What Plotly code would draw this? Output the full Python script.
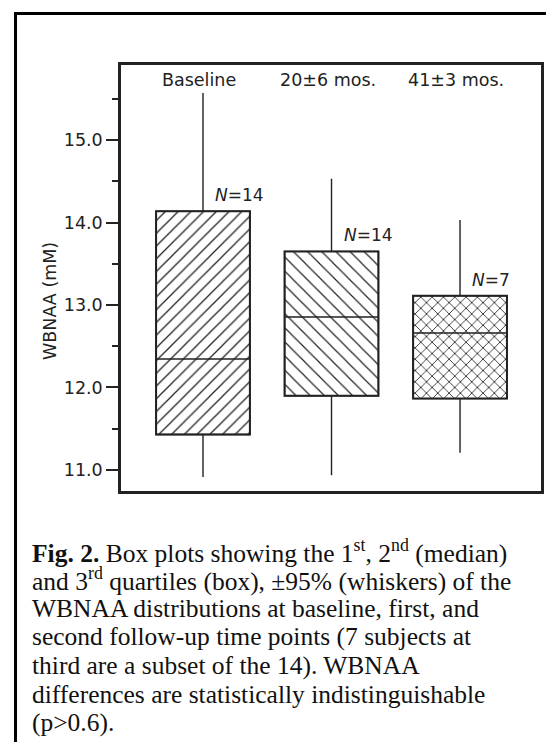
import plotly.graph_objects as go

# ---- data ----
categories = ["Baseline", "20±6 mos.", "41±3 mos."]
n_counts = [14, 14, 7]
q1 = [11.43, 11.90, 11.865]
median = [12.345, 12.855, 12.66]
q3 = [14.136, 13.65, 13.113]
lower_whisker = [10.915, 10.935, 11.21]
upper_whisker = [15.57, 14.53, 14.03]
hatch = ["/", "\\", "x"]
y_ticks = [11.0, 12.0, 13.0, 14.0, 15.0]
y_title = "WBNAA (mM)"
caption_lines = [
    "<b>Fig. 2.</b> Box plots showing the 1<sup>st</sup>, 2<sup>nd</sup> (median)",
    "and 3<sup>rd</sup> quartiles (box), ±95% (whiskers) of the",
    "WBNAA distributions at baseline, first, and",
    "second follow-up time points (7 subjects at",
    "third are a subset of the 14). WBNAA",
    "differences are statistically indistinguishable",
    "(p>0.6).",
]

W, H = 554, 742
L, R, T, B = 113, 533, 57, 483  # plot area in pixels
INK = "#222222"
SANS = "DejaVu Sans"
SERIF = "Liberation Serif, Times New Roman, serif"


def px_x(px):
    return (px - L) / (R - L)


def px_y(py):
    return (B - py) / (B - T)


pos = list(range(len(categories)))
box_w = 0.73

fig = go.Figure()
fig.add_trace(go.Bar(
    x=pos,
    y=[b - a for a, b in zip(q1, q3)],
    base=q1,
    width=box_w,
    marker=dict(
        color="white",
        line=dict(color=INK, width=2),
        pattern=dict(shape=hatch, fgcolor=INK, bgcolor="white",
                     size=[9, 10, 8], solidity=[0.14, 0.12, 0.2],
                     fillmode="replace"),
    ),
    showlegend=False,
    hoverinfo="skip",
))
fig.add_trace(go.Box(
    x=pos,
    q1=q1,
    median=median,
    q3=q3,
    lowerfence=lower_whisker,
    upperfence=upper_whisker,
    width=box_w,
    whiskerwidth=0,
    fillcolor="rgba(0,0,0,0)",
    line=dict(color=INK, width=1.4),
    boxpoints=False,
    showlegend=False,
    hoverinfo="skip",
))

annotations = []
# group labels at the top
for i, c in enumerate(categories):
    annotations.append(dict(
        x=pos[i], xref="x", y=px_y(72), yref="paper", text=c,
        showarrow=False, xanchor="center", yanchor="middle", xshift=-4,
        font=dict(family=SANS, size=17.5, color=INK),
    ))
# N labels
for i, n in enumerate(n_counts):
    annotations.append(dict(
        x=pos[i], xref="x", y=q3[i], yref="y", text=f"<i>N</i>={n}",
        showarrow=False, xanchor="left", yanchor="middle", xshift=10, yshift=16,
        font=dict(family=SANS, size=17, color=INK),
    ))
# y-axis title
annotations.append(dict(
    x=px_x(42), xref="paper", y=px_y(293), yref="paper", text=y_title,
    textangle=-90, showarrow=False, xanchor="center", yanchor="middle",
    font=dict(family=SANS, size=17.5, color=INK),
))
# caption
for i, line in enumerate(caption_lines):
    annotations.append(dict(
        x=px_x(22), xref="paper", y=px_y(543 + i * 28.6), yref="paper",
        text=line, showarrow=False, xanchor="left", yanchor="middle",
        font=dict(family=SERIF, size=25.5, color="#111111"),
    ))

shapes = [
    dict(type="line", xref="paper", yref="paper",
         x0=px_x(7.5), x1=px_x(W + 5), y0=px_y(5.5), y1=px_y(5.5),
         line=dict(color="black", width=3)),
    dict(type="line", xref="paper", yref="paper",
         x0=px_x(7.5), x1=px_x(7.5), y0=px_y(4), y1=px_y(H + 5),
         line=dict(color="black", width=3)),
]

fig.update_layout(
    width=W, height=H,
    margin=dict(l=L, r=W - R, t=T, b=H - B, pad=0),
    paper_bgcolor="white", plot_bgcolor="white",
    showlegend=False,
    annotations=annotations,
    shapes=shapes,
    xaxis=dict(
        range=[-0.638, 2.63], showticklabels=False, ticks="",
        showline=True, mirror=True, linecolor=INK, linewidth=2.5,
        showgrid=False, zeroline=False, fixedrange=True,
    ),
    yaxis=dict(
        range=[10.745, 15.91],
        tickvals=y_ticks, ticktext=[f"{t:.1f}" for t in y_ticks],
        ticks="outside", ticklen=12, tickwidth=2, tickcolor=INK,
        minor=dict(ticks="outside", ticklen=6, tickwidth=2, tickcolor=INK,
                   tickvals=[t + 0.5 for t in y_ticks]),
        tickfont=dict(family=SANS, size=17.5, color=INK),
        showline=True, mirror=True, linecolor=INK, linewidth=2.5,
        showgrid=False, zeroline=False, fixedrange=True,
    ),
)

fig.write_html("out.html")
